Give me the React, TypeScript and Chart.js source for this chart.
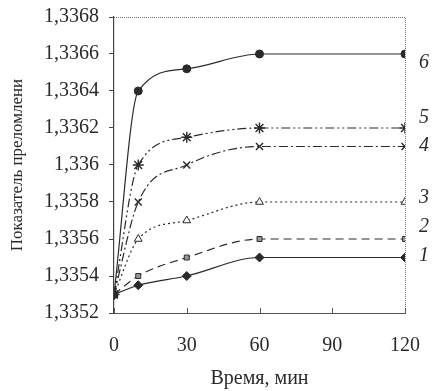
import React, { useEffect, useRef } from "react";
import { Chart, registerables } from "chart.js";

Chart.register(...registerables);

const times = [0, 10, 30, 60, 120];
const series1 = [1.3353, 1.33535, 1.3354, 1.3355, 1.3355];
const series2 = [1.3353, 1.3354, 1.3355, 1.3356, 1.3356];
const series3 = [1.3353, 1.3356, 1.3357, 1.3358, 1.3358];
const series4 = [1.3353, 1.3358, 1.336, 1.3361, 1.3361];
const series5 = [1.3353, 1.336, 1.33615, 1.3362, 1.3362];
const series6 = [1.3353, 1.3364, 1.33652, 1.3366, 1.3366];
const seriesNames = ["1", "2", "3", "4", "5", "6"];
const yTicks = [1.3352, 1.3354, 1.3356, 1.3358, 1.336, 1.3362, 1.3364, 1.3366, 1.3368];
const xTicks = [0, 30, 60, 90, 120];
const xTitle = "Время, мин";
const yTitle = "Показатель преломлени";

const SERIF = "'Liberation Serif', 'DejaVu Serif', serif";
const INK = "#2a2a2a";

const labelOffsets = [-2, -12, -4, -1, -10, 9];

const framePlugin = {
  id: "frame",
  beforeDatasetsDraw(chart: any) {
    const { ctx, chartArea } = chart;
    const { left, right, top, bottom } = chartArea;
    ctx.save();
    ctx.strokeStyle = "#777";
    ctx.lineWidth = 1;
    ctx.setLineDash([1, 1]);
    ctx.beginPath();
    ctx.moveTo(left, top + 0.5);
    ctx.lineTo(right + 0.5, top + 0.5);
    ctx.lineTo(right + 0.5, bottom);
    ctx.stroke();
    ctx.setLineDash([]);
    const xs = chart.scales.x;
    ctx.strokeStyle = "#555";
    for (const t of xTicks) {
      const px = Math.round(xs.getPixelForValue(t)) + 0.5;
      ctx.beginPath();
      ctx.moveTo(px, bottom);
      ctx.lineTo(px, bottom - 5);
      ctx.stroke();
    }
    ctx.restore();
  },
  afterDatasetsDraw(chart: any) {
    const { ctx, chartArea } = chart;
    ctx.save();
    ctx.fillStyle = INK;
    ctx.font = "italic 20px " + SERIF;
    ctx.textAlign = "left";
    ctx.textBaseline = "middle";
    chart.data.datasets.forEach((ds: any, i: number) => {
      const meta = chart.getDatasetMeta(i);
      const last = meta.data[meta.data.length - 1];
      ctx.fillText(seriesNames[i], chartArea.right + 14, last.y + labelOffsets[i]);
    });
    ctx.restore();
  },
};

function pts(ys: number[]) {
  return times.map((t, i) => ({ x: t, y: ys[i] }));
}

export default function App() {
  const ref = useRef<HTMLCanvasElement>(null);
  useEffect(() => {
    const common = {
      borderColor: INK,
      borderWidth: 1.2,
      pointBorderColor: INK,
      pointBorderWidth: 1,
      cubicInterpolationMode: "monotone" as const,
      fill: false,
    };
    const chart = new Chart(ref.current!, {
      type: "line",
      data: {
        datasets: [
          { ...common, data: pts(series1), pointStyle: "rectRot", pointRadius: 4.5, pointBackgroundColor: INK },
          { ...common, data: pts(series2), borderDash: [8, 5], pointStyle: "rect", pointRadius: 3.5, pointBackgroundColor: "#999" },
          { ...common, data: pts(series3), borderDash: [2, 3], pointStyle: "triangle", pointRadius: 4.5, pointBackgroundColor: "#fff" },
          { ...common, data: pts(series4), borderDash: [9, 3, 2, 3], pointStyle: "crossRot", pointRadius: 5, pointBorderWidth: 1.4 },
          { ...common, data: pts(series5), borderDash: [9, 3, 2, 3, 2, 3], pointStyle: "star", pointRadius: 5.5, pointBorderWidth: 1.4 },
          { ...common, data: pts(series6), pointStyle: "circle", pointRadius: 4, pointBackgroundColor: INK },
        ],
      },
      options: {
        animation: false,
        responsive: false,
        maintainAspectRatio: false,
        layout: { padding: { left: 0, right: 28, top: 17, bottom: 0 } },
        plugins: { legend: { display: false }, tooltip: { enabled: false } },
        scales: {
          x: {
            type: "linear",
            min: 0,
            max: 120,
            afterBuildTicks: (s: any) => { s.ticks = xTicks.map((v) => ({ value: v })); },
            afterFit: (s: any) => { s.height = 78; s.paddingLeft = 0; s.paddingRight = 0; },
            grid: { display: true, drawOnChartArea: false, drawTicks: false, color: "#555" },
            border: { display: true, color: "#555", dash: [1, 1] },
            ticks: { color: INK, font: { family: SERIF, size: 20 }, padding: 21, maxRotation: 0 },
            title: { display: true, text: xTitle, color: INK, font: { family: SERIF, size: 20 }, padding: { top: 6, bottom: 0 } },
          },
          y: {
            type: "linear",
            min: 1.3352,
            max: 1.3368,
            afterBuildTicks: (s: any) => { s.ticks = yTicks.map((v) => ({ value: v })); },
            afterFit: (s: any) => { s.width = 114; s.paddingTop = 0; s.paddingBottom = 0; },
            grid: { display: true, drawOnChartArea: false, drawTicks: true, tickLength: 5, color: "#444" },
            border: { display: true, color: "#444", width: 1.2 },
            ticks: {
              color: INK,
              font: { family: SERIF, size: 20 },
              padding: 10,
              callback: (v: any) => Number(Number(v).toFixed(4)).toString().replace(".", ","),
            },
            title: { display: true, text: yTitle, color: INK, font: { family: SERIF, size: 17 }, padding: { top: 7, bottom: 0 } },
          },
        },
      },
      plugins: [framePlugin],
    });
    return () => chart.destroy();
  }, []);
  return (
    <div style={{ position: "fixed", left: 0, top: 0, width: 433, height: 391, background: "#fff" }}>
      <canvas ref={ref} width={433} height={391} style={{ width: 433, height: 391 }} />
    </div>
  );
}
